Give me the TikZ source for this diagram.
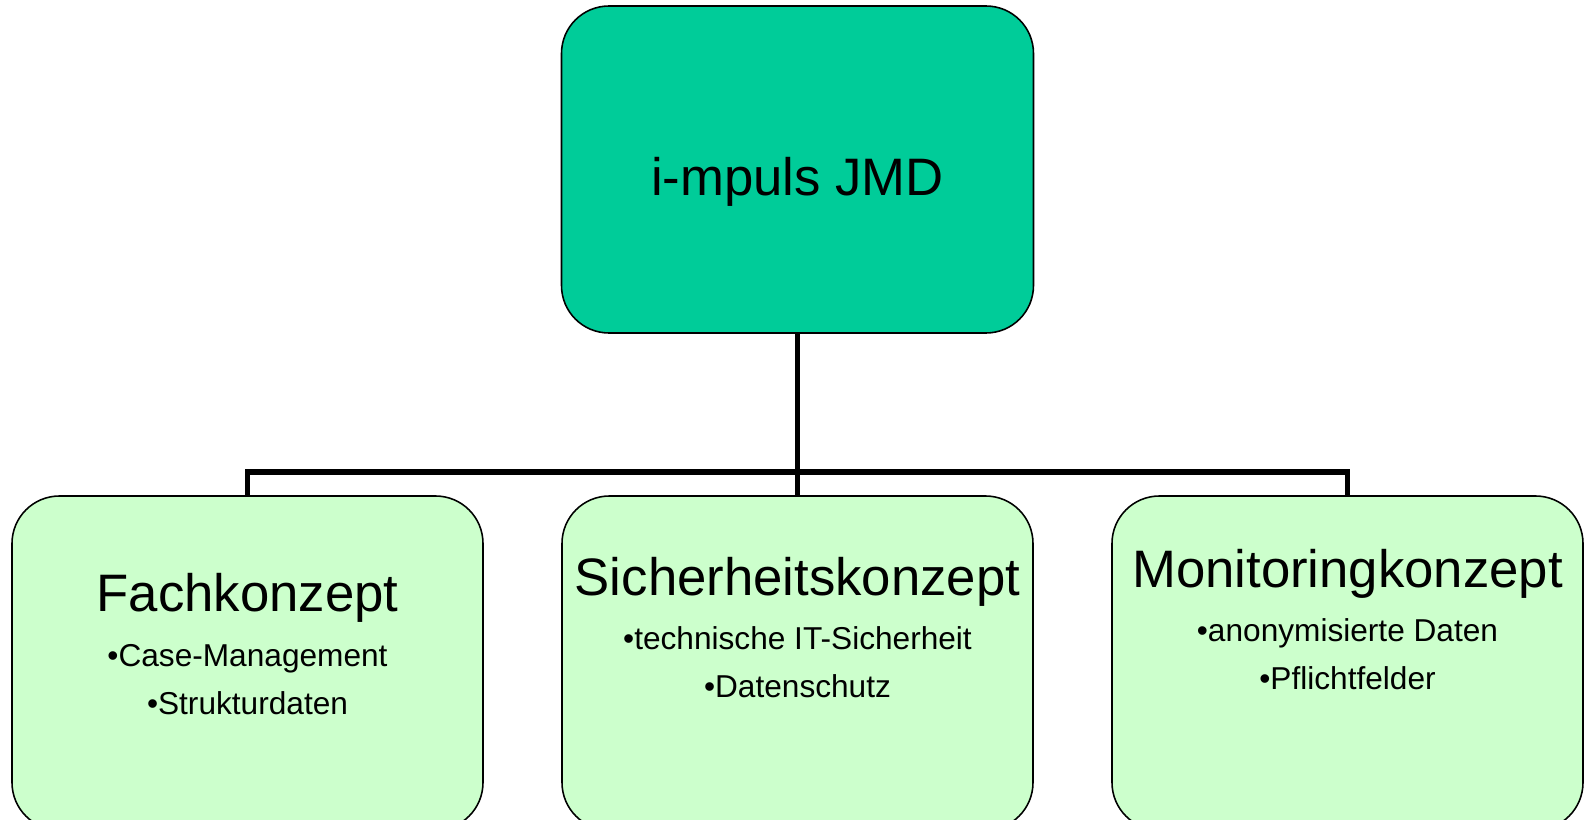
\documentclass[tikz,border=0pt]{standalone}
\usepackage{fontspec}
\setmainfont{Liberation Sans}
\definecolor{topgreen}{RGB}{0,204,153}
\definecolor{palegreen}{RGB}{204,255,204}
\tikzset{
	box/.style={draw=black,line width=0.9pt,rounded corners=0.95cm,minimum width=9.42cm,minimum height=6.68cm},
	conn/.style={line width=3.4pt},
	headline/.style={anchor=base,inner sep=0pt,font=\fontsize{30}{36}\selectfont},
	item/.style={anchor=base,inner sep=0pt,font=\fontsize{18}{22}\selectfont}
}

\begin{document}
\begin{tikzpicture}
		\useasboundingbox (0,0) rectangle (31.68,-16.4);
		% top box
		\node[box,fill=topgreen,minimum width=9.44cm,minimum height=6.54cm] (top) at (15.95,-3.39) {};
		\node[headline] (toptext) at ([yshift=-3.8cm]top.north) {i-mpuls JMD};
		% lower boxes
		\node[box,fill=palegreen] (fach) at (4.95,-13.26) {};
		\node[box,fill=palegreen] (sich) at (15.95,-13.26) {};
		\node[box,fill=palegreen] (moni) at (26.95,-13.26) {};
		\node[headline] (fachhead) at ([yshift=-2.32cm]fach.north) {Fachkonzept};
		\node[item] (fachone) at ([yshift=-3.42cm]fach.north) {•Case-Management};
		\node[item] (fachtwo) at ([yshift=-4.38cm]fach.north) {•Strukturdaten};
		\node[headline] (sichhead) at ([yshift=-2.0cm]sich.north) {Sicherheitskonzept};
		\node[item] (sichone) at ([yshift=-3.08cm]sich.north) {•technische IT-Sicherheit};
		\node[item] (sichtwo) at ([yshift=-4.04cm]sich.north) {•Datenschutz};
		\node[headline] (monihead) at ([yshift=-1.84cm]moni.north) {Monitoringkonzept};
		\node[item] (monione) at ([yshift=-2.92cm]moni.north) {•anonymisierte Daten};
		\node[item] (monitwo) at ([yshift=-3.88cm]moni.north) {•Pflichtfelder};
		% connectors
		\coordinate (bar) at (15.95,-9.44);
		\draw[conn] (top.south) -- (sich.north);
		\draw[conn] (fach.north) |- (bar) -| (moni.north);
	\end{tikzpicture}
\end{document}
